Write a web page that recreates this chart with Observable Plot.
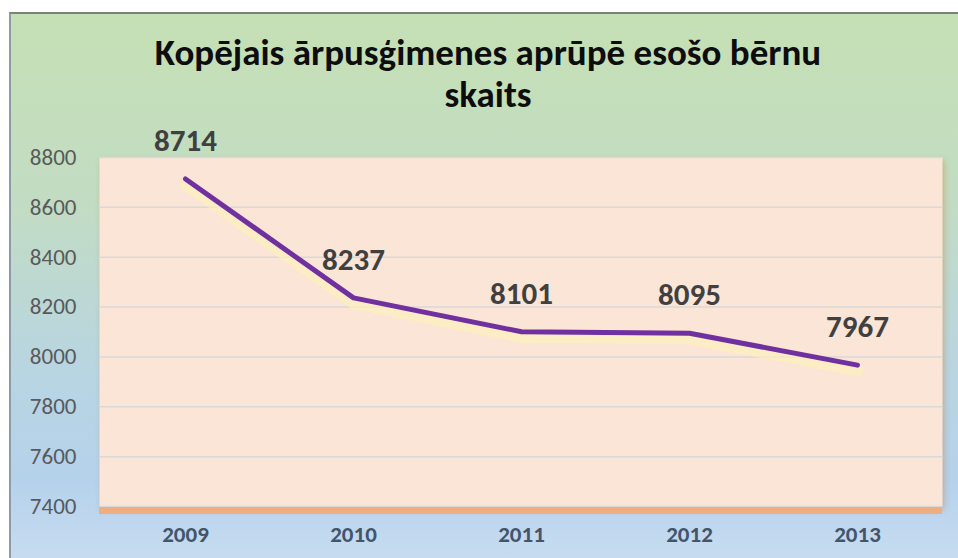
<!DOCTYPE html>
<html>
<head>
<meta charset="utf-8">
<script src="https://cdn.jsdelivr.net/npm/d3@7"></script>
<script src="https://cdn.jsdelivr.net/npm/@observablehq/plot@0.6"></script>
<style>
  html, body { margin: 0; padding: 0; background: #fff; }
  #wrap { position: relative; width: 958px; height: 558px; overflow: hidden; font-family: Carlito, Calibri, Lato, sans-serif; }
  #bg { position: absolute; left: 9px; top: 12px; right: -5px; bottom: -5px;
        border-top: 2.5px solid #7f7f7f; border-left: 2.5px solid #8f9aa8;
        background: linear-gradient(to bottom, #c5e0b4 0%, #c2dcc4 35%, #b8d5e2 65%, #b5d2ec 85%, #c8dcf0 100%); }
  #title { position: absolute; left: 0; width: 976px; top: 32px; text-align: center;
           font-weight: bold; font-size: 37px; line-height: 42px; color: #0d0d0d; }
  #chart { position: absolute; left: 0; top: 0; }
</style>
</head>
<body>
<div id="wrap">
  <div id="bg"></div>
  <div id="title">Kopējais ārpusģimenes aprūpē esošo bērnu<br>skaits</div>
  <div id="chart"></div>
</div>
<script>
const years = ["2009", "2010", "2011", "2012", "2013"];
const values = [8714, 8237, 8101, 8095, 7967];
const yTicks = [7400, 7600, 7800, 8000, 8200, 8400, 8600, 8800];

const data = years.map((y, i) => ({year: y, value: values[i]}));

const plot = Plot.plot({
  width: 958,
  height: 558,
  marginLeft: 99,
  marginRight: 16,
  marginTop: 157,
  marginBottom: 52,
  style: {background: "transparent", fontFamily: "Carlito, Calibri, Lato, sans-serif"},
  x: {type: "point", domain: years, padding: 0.5, label: null},
  y: {domain: [7400, 8800], label: null},
  marks: [
    Plot.frame({fill: "#fbe5d6", stroke: null}),
    Plot.ruleY(yTicks, {stroke: "#d9d9d9", strokeWidth: 1.5}),
    Plot.ruleY([7400], {stroke: "#f0ad80", strokeWidth: 7, dy: 4}),
    Plot.line(data, {x: "year", y: "value", stroke: "#fff2b8", strokeWidth: 12, strokeOpacity: 0.6, dy: 5}),
    Plot.line(data, {x: "year", y: "value", stroke: "#7030a0", strokeWidth: 5, strokeLinejoin: "round", strokeLinecap: "round"}),
    Plot.text(data, {x: "year", y: "value", text: d => String(d.value), dy: -38, fontSize: 31, fontWeight: "bold", fill: "#404040"}),
    Plot.axisY(yTicks, {label: null, tickSize: 0, tickPadding: 23, tickFormat: d => String(d), fontSize: 23, fill: "#595959"}),
    Plot.axisX(years, {label: null, tickSize: 0, tickPadding: 19, fontSize: 23, fontWeight: "bold", fill: "#44546a"})
  ]
});
document.getElementById("chart").appendChild(plot);
d3.select(plot).select("[aria-label=frame]").style("filter", "drop-shadow(2px 3px 3px rgba(200,130,70,0.45))");
</script>
</body>
</html>
